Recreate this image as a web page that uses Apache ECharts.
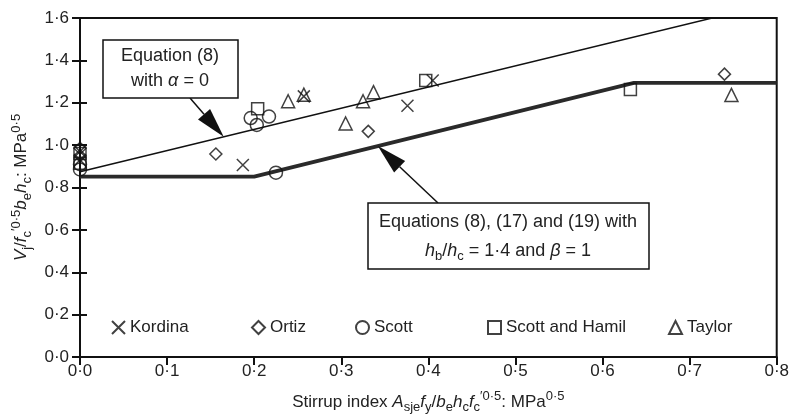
<!DOCTYPE html>
<html><head><meta charset="utf-8">
<script src="https://cdn.jsdelivr.net/npm/echarts@6/dist/echarts.min.js"></script>
<style>html,body{margin:0;padding:0;background:#fff}#c{width:792px;height:419px}</style>
</head><body><div id="c"></div>
<script>
// ---- data ----
const kordina = [[0, 0.93], [0, 0.97], [0.187, 0.906], [0.257, 1.23], [0.376, 1.186], [0.405, 1.305]];
const ortiz = [[0, 0.95], [0, 0.985], [0.156, 0.958], [0.331, 1.065], [0.74, 1.335]];
const scott = [[0, 0.885], [0, 0.91], [0.196, 1.128], [0.203, 1.095], [0.217, 1.135], [0.225, 0.87]];
const scottHamil = [[0, 0.915], [0, 0.96], [0.204, 1.172], [0.397, 1.305], [0.632, 1.262]];
const taylor = [[0.239, 1.207], [0.257, 1.238], [0.305, 1.102], [0.325, 1.207], [0.337, 1.25], [0.748, 1.237]];
const eq8Line = [[0, 0.874], [0.8, 1.674]];
const eqCombinedLine = [[0, 0.851], [0.2, 0.851], [0.636, 1.294], [0.8, 1.294]];
const xMin = 0, xMax = 0.8, xStep = 0.1;
const yMin = 0, yMax = 1.6, yStep = 0.2;

const fmt = v => v.toFixed(1).replace('.', '\u00b7');
const FONT = 'Liberation Sans, Arial, sans-serif';
const FS = 17;
const makeRich = (fs, ss) => ({
  n: {fontSize: fs, fontFamily: FONT, color: '#222', lineHeight: 24},
  i: {fontSize: fs, fontFamily: FONT, color: '#222', fontStyle: 'italic', lineHeight: 24},
  sub: {fontSize: ss, fontFamily: FONT, color: '#222', verticalAlign: 'bottom', lineHeight: 16},
  sup: {fontSize: ss, fontFamily: FONT, color: '#222', verticalAlign: 'top', lineHeight: 16}
});
const rich = makeRich(17, 13);
const richBox = makeRich(18, 13);

const crossPath = 'path://M0,0L10,10M10,0L0,10';
const mk = (name, data, symbol, size) => ({
  name, type: 'scatter', data, symbol, symbolSize: size,
  itemStyle: {color: 'rgba(0,0,0,0)', borderColor: '#111', borderWidth: 1.5},
  z: 5
});

const chart = echarts.init(document.getElementById('c'), null, {renderer: 'canvas'});
const legendPos = [['Kordina', 106], ['Ortiz', 246], ['Scott', 350], ['Scott and Hamil', 482], ['Taylor', 663]];
const axisCommon = {type: 'value', splitLine: {show: false}};

chart.setOption({
  animation: false,
  backgroundColor: '#fff',
  grid: {left: 80, right: 12, top: 18, bottom: 54, show: true, borderColor: '#111', borderWidth: 2},
  legend: legendPos.map(([n, l]) => ({
    data: [n], left: l, top: 314, itemWidth: 13, itemHeight: 13, itemGap: 6,
    textStyle: {fontSize: FS, fontFamily: FONT, color: '#222'}, selectedMode: false
  })),
  xAxis: {
    ...axisCommon, min: xMin, max: xMax, interval: xStep,
    axisLine: {show: true, lineStyle: {color: '#111', width: 2}},
    axisTick: {show: true, inside: false, length: 8, lineStyle: {color: '#111', width: 2}},
    axisLabel: {formatter: fmt, fontSize: FS, fontFamily: FONT, color: '#222', margin: 6},
    name: '{n|Stirrup index }{i|A}{sub|sje}{i|f}{sub|y}{n|/}{i|b}{sub|e}{i|h}{sub|c}{i|f}{sub|c}{sup|\u20320\u00b75}{n|: MPa}{sup|0\u00b75}',
    nameLocation: 'middle', nameGap: 33,
    nameTextStyle: {fontSize: FS, fontFamily: FONT, color: '#222', rich, lineHeight: 24}
  },
  yAxis: [{
    ...axisCommon, min: yMin, max: yMax, interval: yStep,
    axisLine: {show: true, lineStyle: {color: '#111', width: 2}},
    axisTick: {show: true, inside: false, length: 8, lineStyle: {color: '#111', width: 2}},
    axisLabel: {formatter: fmt, fontSize: FS, fontFamily: FONT, color: '#222', margin: 11},
    name: '{i|V}{sub|j}{n|/}{i|f}{sub|c}{sup|\u20320\u00b75}{i|b}{sub|e}{i|h}{sub|c}{n|: MPa}{sup|0\u00b75}',
    nameLocation: 'middle', nameGap: 40, nameRotate: 90,
    nameTextStyle: {fontSize: FS, fontFamily: FONT, color: '#222', rich, lineHeight: 24}
  }, {
    ...axisCommon, min: yMin, max: yMax, interval: yStep, position: 'left', offset: 0,
    axisLine: {show: false},
    axisTick: {show: true, inside: true, length: 7, lineStyle: {color: '#111', width: 2}},
    axisLabel: {show: false}
  }],
  series: [
    {name: 'eq8', type: 'line', data: eq8Line, showSymbol: false, clip: true,
     lineStyle: {color: '#111', width: 1.5}, z: 3, silent: true},
    {name: 'eqc', type: 'line', data: eqCombinedLine, showSymbol: false, clip: true,
     lineStyle: {color: '#2a2a2a', width: 3.8}, z: 3, silent: true},
    mk('Kordina', kordina, crossPath, 12),
    mk('Ortiz', ortiz, 'diamond', 12),
    mk('Scott', scott, 'circle', 13),
    mk('Scott and Hamil', scottHamil, 'rect', 12),
    mk('Taylor', taylor, 'triangle', 13)
  ]
});

// ---- annotations: boxes + arrows pointing at the two lines ----
function arrow(tail, tip) {
  const dx = tip[0] - tail[0], dy = tip[1] - tail[1];
  const L = Math.hypot(dx, dy), ux = dx / L, uy = dy / L;
  const hl = 30, hw = 8;
  const bx = tip[0] - ux * hl, by = tip[1] - uy * hl;
  return [
    {type: 'line', shape: {x1: tail[0], y1: tail[1], x2: bx, y2: by}, style: {stroke: '#111', lineWidth: 1.5}, z: 20},
    {type: 'polygon', shape: {points: [tip, [bx - uy * hw, by + ux * hw], [bx + uy * hw, by - ux * hw]]}, style: {fill: '#111'}, z: 20}
  ];
}
const tip1 = chart.convertToPixel({gridIndex: 0}, [0.165, 0.874 + 0.165]);
const tip2 = chart.convertToPixel({gridIndex: 0}, [0.342, 0.851 + 0.142 * 1.018]);
const boxText = (x, y, text) => ({type: 'text', x, y, z: 30,
  style: {text, rich: richBox, font: '18px ' + FONT, fill: '#222', align: 'center', verticalAlign: 'middle'}});
chart.setOption({
  graphic: [
    ...arrow([190, 98], tip1),
    ...arrow([438, 203], tip2),
    {type: 'rect', shape: {x: 103, y: 40, width: 135, height: 58}, style: {fill: '#fff', stroke: '#111', lineWidth: 1.5}, z: 25},
    boxText(170, 56, '{n|Equation (8)}'),
    boxText(170, 81, '{n|with }{i|\u03b1}{n| = 0}'),
    {type: 'rect', shape: {x: 368, y: 203, width: 281, height: 66}, style: {fill: '#fff', stroke: '#111', lineWidth: 1.5}, z: 25},
    boxText(508, 222, '{n|Equations (8), (17) and (19) with}'),
    boxText(508, 251, '{i|h}{sub|b}{n|/}{i|h}{sub|c}{n| = 1\u00b74 and }{i|\u03b2}{n| = 1}')
  ]
});
</script></body></html>
